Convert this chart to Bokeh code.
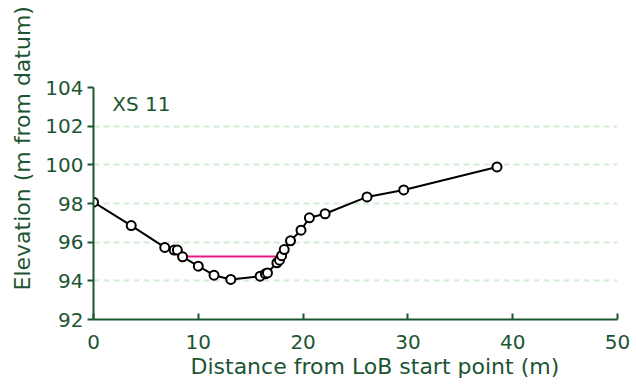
from bokeh.plotting import figure
from bokeh.models import Label, Range1d, FixedTicker, Title
from bokeh.embed import file_html
from bokeh.resources import INLINE

# Survey points of cross-section XS 11
distance = [0.0, 3.6, 6.8, 7.7, 8.0, 8.5, 10.0, 11.5, 13.1, 15.9, 16.4, 16.6,
            17.5, 17.75, 17.95, 18.2, 18.8, 19.8, 20.6, 22.1, 26.1, 29.6, 38.5]
elevation = [98.07, 96.86, 95.73, 95.59, 95.59, 95.24, 94.76, 94.29, 94.07, 94.24, 94.36, 94.41,
             94.93, 95.07, 95.3, 95.62, 96.07, 96.62, 97.26, 97.47, 98.34, 98.7, 99.89]
# Water surface
water_x = [8.5, 18.3]
water_y = [95.26, 95.26]

x_ticks = [0, 10, 20, 30, 40, 50]
y_ticks = [92, 94, 96, 98, 100, 102, 104]
section_name = "XS 11"
x_label = "Distance from LoB start point (m)"
y_label = "Elevation (m from datum)"

GREEN = "#1d5533"
FONT = "DejaVu Sans"

p = figure(width=636, height=385, output_backend="svg", toolbar_location=None,
           x_range=Range1d(0, 50), y_range=Range1d(92, 104),
           min_border_left=93, min_border_right=19, min_border_top=87, min_border_bottom=66)
p.outline_line_color = None
p.xgrid.grid_line_color = None
p.ygrid.grid_line_color = "#d6ecd6"
p.ygrid.grid_line_dash = "6 4"
p.ygrid.grid_line_width = 2

for ax in (p.xaxis[0], p.yaxis[0]):
    ax.axis_line_color = GREEN
    ax.axis_line_width = 2
    ax.major_tick_line_color = GREEN
    ax.major_tick_line_width = 2
    ax.minor_tick_line_color = None
    ax.minor_tick_in = 0
    ax.minor_tick_out = 0
    ax.major_label_text_color = GREEN
    ax.major_label_text_font = FONT
    ax.major_label_text_font_size = "20px"

p.xaxis.ticker = FixedTicker(ticks=x_ticks)
p.yaxis.ticker = FixedTicker(ticks=y_ticks)
p.xaxis.major_tick_in = 6
p.xaxis.major_tick_out = 0
p.xaxis.major_label_standoff = 15
p.yaxis.major_tick_in = 0
p.yaxis.major_tick_out = 6
p.yaxis.major_label_standoff = 4

p.line(water_x, water_y, line_color="#e8168a", line_width=2)
p.line(distance, elevation, line_color="black", line_width=2)
p.scatter(distance, elevation, size=9, fill_color="white", line_color="black", line_width=2)

p.add_layout(Label(x=1.8, y=102.55, text=section_name, text_color=GREEN, text_font=FONT,
                   text_font_size="20px"))
p.add_layout(Title(text=x_label, align="left", offset=97, standoff=1, text_color=GREEN,
                   text_font=FONT, text_font_size="22px", text_font_style="normal"), "below")
p.add_layout(Title(text=y_label, align="left", offset=29, standoff=15, text_color=GREEN,
                   text_font=FONT, text_font_size="22px", text_font_style="normal"), "left")

open("out.html", "w").write(file_html(p, INLINE))
